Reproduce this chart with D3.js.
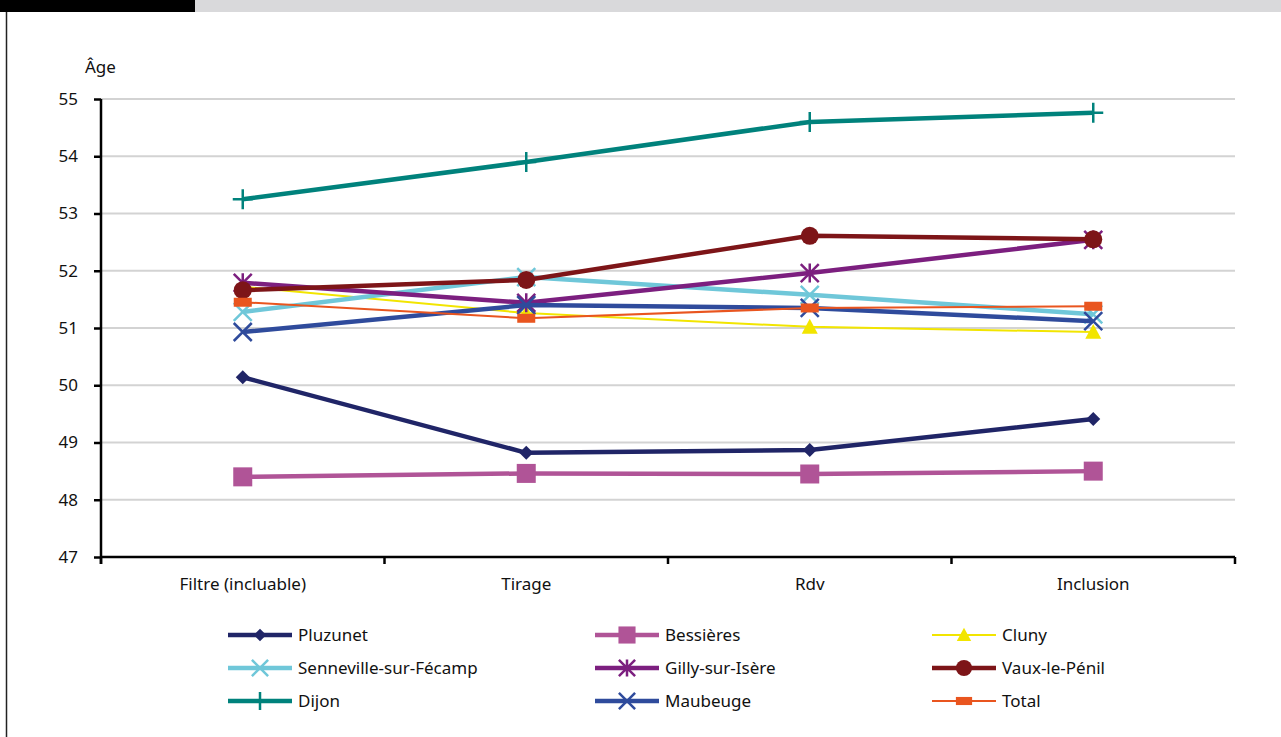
<!DOCTYPE html>
<html><head><meta charset="utf-8">
<script src="https://cdn.jsdelivr.net/npm/d3@7"></script>
<style>
html,body{margin:0;padding:0;background:#fff;}
svg{display:block;font-family:"Noto Sans",sans-serif;}
</style></head>
<body>
<svg id="c" width="1281" height="737"></svg>
<script>
const categories = ["Filtre (incluable)", "Tirage", "Rdv", "Inclusion"];
const yTicks = [47, 48, 49, 50, 51, 52, 53, 54, 55];
const seriesNames = ["Pluzunet","Bessières","Cluny","Senneville-sur-Fécamp","Gilly-sur-Isère","Vaux-le-Pénil","Dijon","Maubeuge","Total"];
const pluzunet   = [50.14, 48.82, 48.87, 49.41];
const bessieres  = [48.40, 48.46, 48.45, 48.50];
const cluny      = [51.72, 51.26, 51.02, 50.93];
const senneville = [51.28, 51.89, 51.58, 51.24];
const gilly      = [51.79, 51.44, 51.96, 52.54];
const vaux       = [51.66, 51.84, 52.61, 52.55];
const dijon      = [53.25, 53.90, 54.60, 54.76];
const maubeuge   = [50.93, 51.40, 51.35, 51.12];
const total      = [51.45, 51.17, 51.35, 51.38];

const seriesValues = [pluzunet,bessieres,cluny,senneville,gilly,vaux,dijon,maubeuge,total];
const colors = ["#202567","#b05497","#f2e500","#6fc7d9","#7c1f7f","#7d1518","#00827c","#2f4b9c","#e9551f"];
const widths = [4.5,4.5,2,4.5,4.5,4.5,4.5,4.5,2];
const markers = ["diamond","square","triangle","x","asterisk","circle","plus","x","rect"];
const FS = 17;

const svg = d3.select("#c");
// frame
svg.append("rect").attr("x",0).attr("y",0).attr("width",195).attr("height",12).attr("fill","#000");
svg.append("rect").attr("x",195).attr("y",0).attr("width",1086).attr("height",12).attr("fill","#d9d9db");
svg.append("line").attr("x1",6.5).attr("x2",6.5).attr("y1",12).attr("y2",737).attr("stroke","#222").attr("stroke-width",1.5);

const L=101, R=1235, T=99, B=557;
const x = d3.scaleBand().domain(categories).range([L,R]);
const y = d3.scaleLinear().domain([47,55]).range([B,T]);

// gridlines
svg.append("g").selectAll("line").data(yTicks.filter(d=>d>47)).join("line")
  .attr("x1",L).attr("x2",R).attr("y1",d=>y(d)).attr("y2",d=>y(d))
  .attr("stroke","#d3d3d3").attr("stroke-width",2);

// y axis
const ya = svg.append("g").attr("transform",`translate(${L},0)`)
  .call(d3.axisLeft(y).tickValues(yTicks).tickSize(7).tickPadding(16).tickFormat(d3.format("d")));
ya.select(".domain").attr("stroke","#000").attr("stroke-width",2.5).attr("d",`M0,${T}V${B+7}`);
ya.selectAll(".tick line").attr("stroke","#000").attr("stroke-width",2.5);
ya.selectAll(".tick text").attr("font-size",FS).attr("fill","#111").attr("font-family","Noto Sans");

// x axis
const xa = svg.append("g").attr("transform",`translate(0,${B})`)
  .call(d3.axisBottom(x).tickSize(0).tickPadding(21));
xa.select(".domain").attr("stroke","#000").attr("stroke-width",2.5).attr("d",`M${L},0H${R}`);
xa.selectAll(".tick text").attr("font-size",FS).attr("fill","#111").attr("font-family","Noto Sans");
// boundary ticks
const bounds = categories.map(c=>x(c)).concat([R]);
svg.append("g").selectAll("line").data(bounds).join("line")
  .attr("x1",d=>d).attr("x2",d=>d).attr("y1",B).attr("y2",B+7)
  .attr("stroke","#000").attr("stroke-width",2.5);

svg.append("text").attr("x",85).attr("y",73).attr("font-size",FS).attr("fill","#111").text("Âge");

function drawMarker(g, type, cx, cy, col, s){
  s = s||1;
  if(type==="diamond"){
    const r=7*s;
    g.append("path").attr("d",`M${cx},${cy-r}L${cx+r},${cy}L${cx},${cy+r}L${cx-r},${cy}Z`).attr("fill",col);
  } else if(type==="square"){
    const r=9.5*s;
    g.append("rect").attr("x",cx-r).attr("y",cy-r).attr("width",2*r).attr("height",2*r).attr("fill",col);
  } else if(type==="triangle"){
    const r=8*s;
    g.append("path").attr("d",`M${cx},${cy-r}L${cx+r},${cy+r*0.85}L${cx-r},${cy+r*0.85}Z`).attr("fill",col);
  } else if(type==="x"){
    const r=9*s;
    g.append("path").attr("d",`M${cx-r},${cy-r}L${cx+r},${cy+r}M${cx-r},${cy+r}L${cx+r},${cy-r}`)
      .attr("stroke",col).attr("stroke-width",2.5).attr("fill","none");
  } else if(type==="asterisk"){
    const r=9*s;
    g.append("path").attr("d",`M${cx-r},${cy-r}L${cx+r},${cy+r}M${cx-r},${cy+r}L${cx+r},${cy-r}M${cx},${cy-r*1.05}L${cx},${cy+r*1.05}`)
      .attr("stroke",col).attr("stroke-width",2.5).attr("fill","none");
  } else if(type==="circle"){
    g.append("circle").attr("cx",cx).attr("cy",cy).attr("r",9*s).attr("fill",col);
  } else if(type==="plus"){
    const r=10*s;
    g.append("path").attr("d",`M${cx},${cy-r}L${cx},${cy+r}M${cx-r},${cy}L${cx+r},${cy}`)
      .attr("stroke",col).attr("stroke-width",2.5).attr("fill","none");
  } else if(type==="rect"){
    g.append("rect").attr("x",cx-9*s).attr("y",cy-4.5*s).attr("width",18*s).attr("height",9*s).attr("fill",col);
  }
}

const cx = c => x(c)+x.bandwidth()/2;
const line = d3.line().x((d,i)=>cx(categories[i])).y(d=>y(d));
seriesValues.forEach((vals,si)=>{
  const g = svg.append("g");
  g.append("path").attr("d",line(vals)).attr("fill","none")
    .attr("stroke",colors[si]).attr("stroke-width",widths[si]).attr("stroke-linejoin","round");
  vals.forEach((v,i)=>drawMarker(g, markers[si], cx(categories[i]), y(v), colors[si], 1));
});

// legend
const colX = [228, 595, 932];
const rowY = [635, 668, 701];
seriesNames.forEach((n,i)=>{
  const col=i%3, row=Math.floor(i/3);
  const lx=colX[col], ly=rowY[row];
  const g=svg.append("g");
  g.append("line").attr("x1",lx).attr("x2",lx+64).attr("y1",ly).attr("y2",ly)
    .attr("stroke",colors[i]).attr("stroke-width",widths[i]);
  drawMarker(g, markers[i], lx+32, ly, colors[i], 0.9);
  g.append("text").attr("x",lx+70).attr("y",ly+6).attr("font-size",FS).attr("fill","#111").text(n);
});
</script>
</body></html>
